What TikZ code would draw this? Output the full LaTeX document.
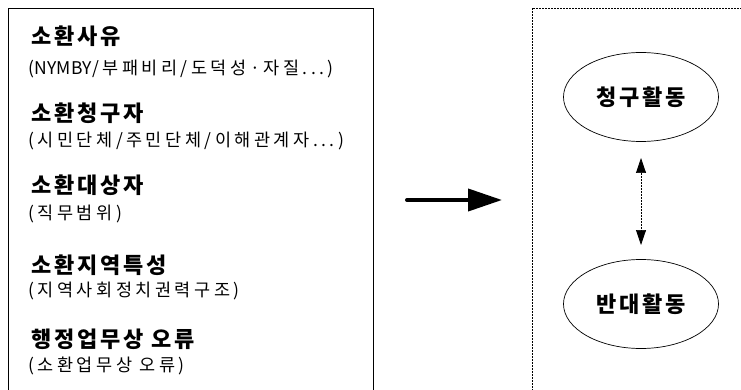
\documentclass[tikz,border=0pt]{standalone}
\usepackage{fontspec}
\setmainfont{Noto Sans CJK KR}
\newfontfamily\headfont{Noto Sans CJK KR}[LetterSpace=13]
\newfontfamily\subfont{Noto Sans CJK KR}[LetterSpace=20]
\newfontfamily\latfont{Noto Sans CJK KR}[LetterSpace=2]
\usetikzlibrary{arrows.meta,shapes.geometric}
\begin{document}
\begin{tikzpicture}[x=1pt,y=-1pt,
  head/.style={anchor=west,inner sep=0pt,font=\headfont\bfseries\fontsize{22}{22}\selectfont},
  sub/.style={anchor=west,inner sep=0pt,font=\subfont\fontsize{17.5}{18}\selectfont},
  act/.style={ellipse,draw,line width=0.7pt,minimum width=155pt,minimum height=89pt,inner sep=0pt,font=\headfont\bfseries\fontsize{22}{22}\selectfont},
  frame/.style={line width=0.9pt},
  dframe/.style={line width=0.7pt,dash pattern=on 2pt off 1pt}]
\useasboundingbox (0,0) rectangle (741,390);
\begin{scope}
\clip (0,0) rectangle (741,390);
\draw[frame] (8,400) -- (8,8) -- (373,8) -- (373,400);
\draw[dframe] (532,400) -- (532,8) -- (760,8);
\end{scope}
\node[head] (h1) at (31,36.5) {소환사유};
\node[sub] (s1) at (28,69) {({\latfont NYMBY}/부패비리/도덕성·자질...)};
\node[head] (h2) at (31,113) {소환청구자};
\node[sub] (s2) at (28,141) {(시민단체/주민단체/이해관계자...)};
\node[head] (h3) at (31,185) {소환대상자};
\node[sub] (s3) at (28,214) {(직무범위)};
\node[head] (h4) at (31,265) {소환지역특성};
\node[sub] (s4) at (28,291) {(지역사회정치권력구조)};
\node[head] (h5) at (31,339) {행정업무상 오류};
\node[sub] (s5) at (28,366) {(소환업무상 오류)};
\coordinate (a1) at (407,200);
\coordinate (a2) at (502,200);
\draw[line width=4pt,line cap=round,-{Triangle[length=34pt,width=22pt]}] (a1) -- (a2);
\node[act] (e1) at (641,97) {청구활동};
\node[act] (e2) at (641,304) {반대활동};
\draw[dframe,{Triangle[length=15pt,width=10pt]}-{Triangle[length=15pt,width=10pt]}] (641,158) -- (641,245);
\end{tikzpicture}
\end{document}
